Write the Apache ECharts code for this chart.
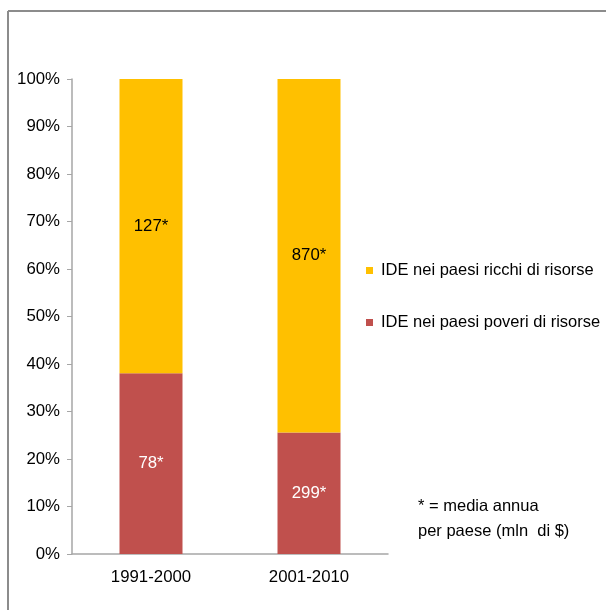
<!DOCTYPE html>
<html>
<head>
<meta charset="utf-8">
<script src="https://cdn.jsdelivr.net/npm/echarts@6/dist/echarts.min.js"></script>
<style>
  html, body { margin: 0; padding: 0; background: #fff; }
  #chart { width: 606px; height: 610px; }
</style>
</head>
<body>
<div id="chart"></div>
<script>
// Periods on the category axis
const categories = ['1991-2000', '2001-2010'];
// Average annual FDI per country (mln $)
const poorValues = [78, 299];
const richValues = [127, 870];
const poorName = 'IDE nei paesi poveri di risorse';
const richName = 'IDE nei paesi ricchi di risorse';
const yTicks = [0, 10, 20, 30, 40, 50, 60, 70, 80, 90, 100];

const totals = categories.map((_, i) => poorValues[i] + richValues[i]);
const toShare = (arr) => arr.map((v, i) => ({ value: v / totals[i] * 100, raw: v }));

const FONT = 'Liberation Sans, Arial, sans-serif';
const FS = 16.8;
const AXIS_GREY = '#a6a6a6';

const chart = echarts.init(document.getElementById('chart'));
chart.setOption({
  animation: false,
  backgroundColor: '#fff',
  textStyle: { fontFamily: FONT },
  graphic: [
    // outer frame (top and left edges)
    { type: 'line', shape: { x1: 8, y1: 11, x2: 606, y2: 11 }, style: { stroke: '#8c8c8c', lineWidth: 2 } },
    { type: 'line', shape: { x1: 8, y1: 11, x2: 8, y2: 610 }, style: { stroke: '#8c8c8c', lineWidth: 2 } },
    // footnote
    {
      type: 'text', left: 418, top: 494,
      style: { text: '* = media annua\nper paese (mln  di $)', font: '16.5px ' + FONT, fill: '#000', lineHeight: 25 }
    }
  ],
  grid: { left: 72, right: 218, top: 79, bottom: 56, containLabel: false },
  legend: {
    orient: 'vertical',
    left: 361, top: 257,
    data: [richName, poorName],
    icon: 'rect',
    itemWidth: 7, itemHeight: 7,
    itemGap: 35,
    textStyle: { fontFamily: FONT, fontSize: 16.5, color: '#000', padding: [0, 0, 0, 3] },
    selectedMode: false
  },
  xAxis: {
    type: 'category',
    data: categories,
    axisLine: { lineStyle: { color: AXIS_GREY, width: 1.5 } },
    axisTick: { show: false },
    axisLabel: { fontSize: FS, color: '#000', fontFamily: FONT, margin: 15 }
  },
  yAxis: {
    type: 'value',
    min: yTicks[0], max: yTicks[yTicks.length - 1], interval: 10,
    axisLine: { show: true, lineStyle: { color: AXIS_GREY, width: 1.5 } },
    axisTick: { show: true, length: 5, lineStyle: { color: AXIS_GREY } },
    splitLine: { show: false },
    axisLabel: { fontSize: FS, color: '#000', fontFamily: FONT, margin: 12, formatter: '{value}%' }
  },
  series: [
    {
      name: poorName, type: 'bar', stack: 'tot',
      data: toShare(poorValues),
      barWidth: 63,
      itemStyle: { color: '#C0504D' },
      label: {
        show: true, position: 'inside', color: '#fff', fontSize: FS, fontFamily: FONT,
        formatter: (p) => p.data.raw + '*'
      }
    },
    {
      name: richName, type: 'bar', stack: 'tot',
      data: toShare(richValues),
      barWidth: 63,
      itemStyle: { color: '#FFC000' },
      label: {
        show: true, position: 'inside', color: '#000', fontSize: FS, fontFamily: FONT,
        formatter: (p) => p.data.raw + '*'
      }
    }
  ]
});
</script>
</body>
</html>
